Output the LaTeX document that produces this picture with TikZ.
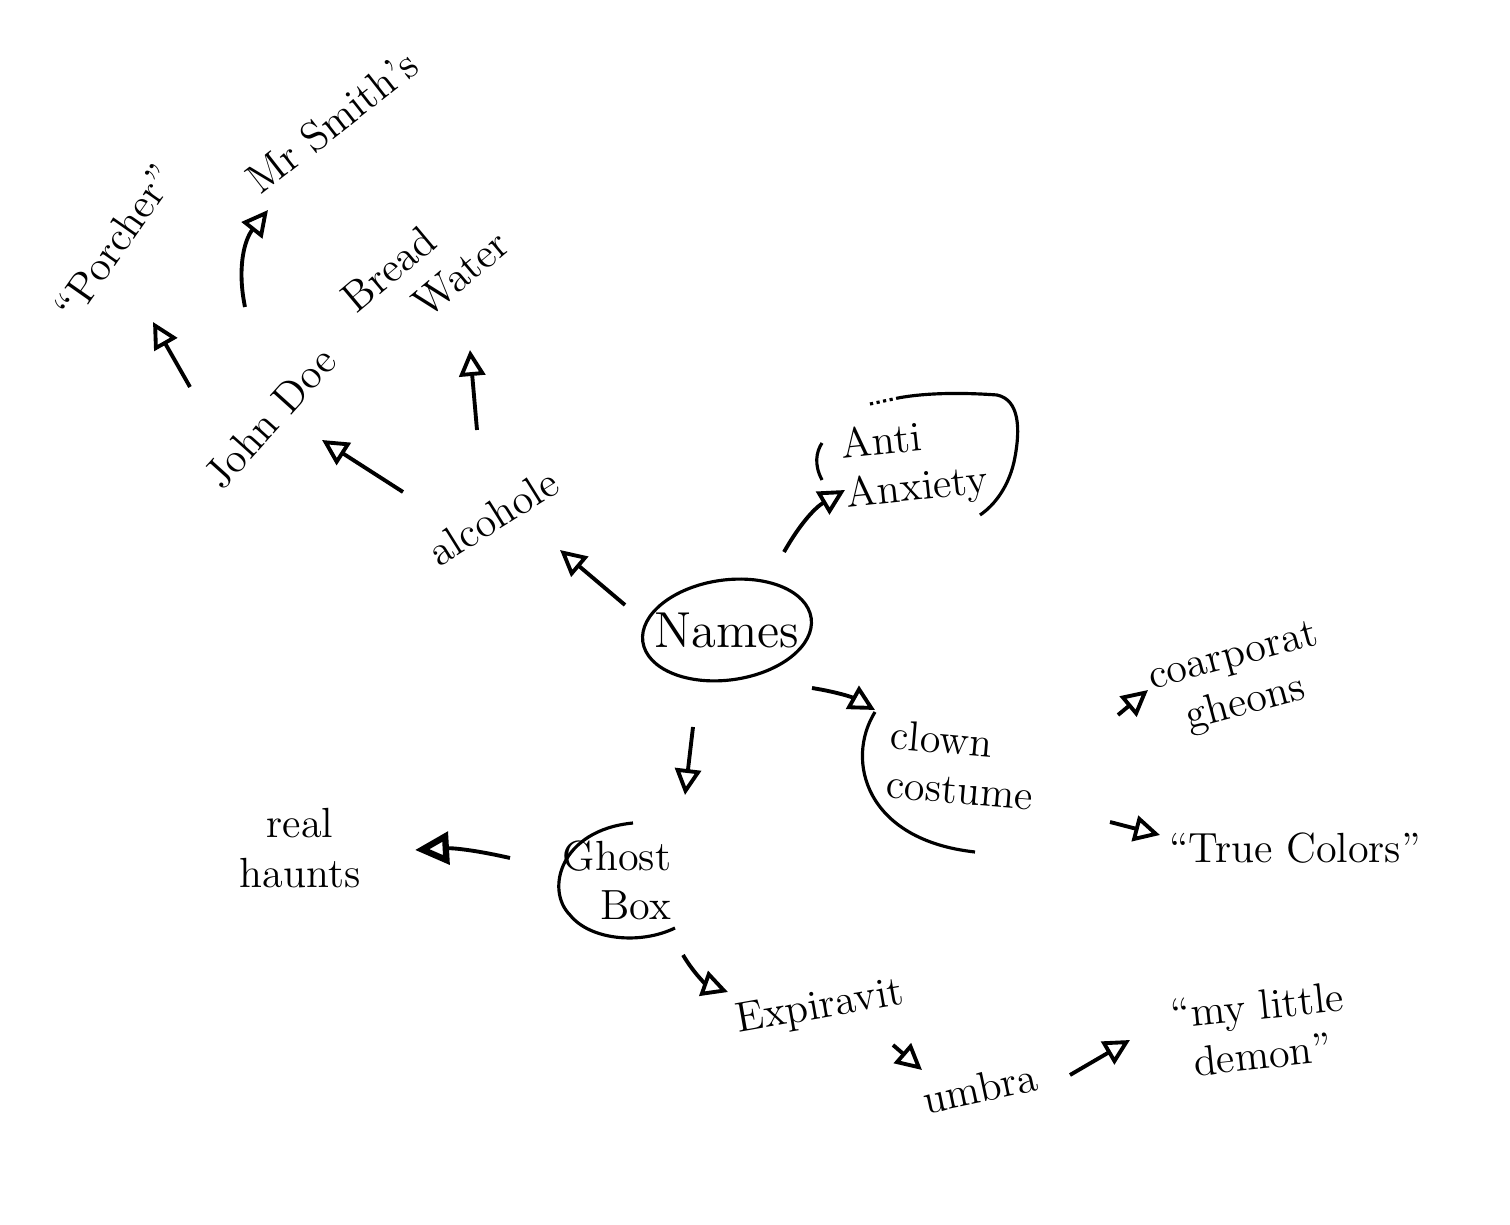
\documentclass[tikz,border=0pt]{standalone}
\usepackage{amssymb, amsmath}
\usetikzlibrary{arrows.meta}
\usetikzlibrary{shapes.geometric}

\begin{document}
\begin{tikzpicture}[line width = 1.1pt,
  idea/.style = {font = \large, inner sep = 2pt, align = center},
  link/.style = {-{Triangle[open,length = 2.6mm,width = 2.6mm]}},
  heavylink/.style = {-{Triangle[open,length = 3.4mm,width = 3.2mm,line width = 1.8pt]}},
  ring/.style = {line width = 0.9pt}]
\useasboundingbox (0,0) rectangle (15.1,-12.25);

% centre
\node[idea,font = \Large] (names) at (7.27,-6.30) {Names};
\draw[ring,rotate around = {8:(7.27,-6.30)}] (names.center) ellipse (0.85cm and 0.50cm);

% upper left branch
\node[idea,rotate = 32] (alc) at (4.93,-5.17) {alcohole};
\node[idea,rotate = 48] (john) at (2.70,-4.18) {John Doe};
\node[idea,rotate = 40,align = left] (bread) at (4.25,-2.71) {Bread\\\hspace*{1.2em}Water};
\node[idea,rotate = 55] (porcher) at (1.15,-2.42) {``Porcher''};
\node[idea,rotate = 38] (smith) at (3.32,-1.22) {Mr Smith's};

% right branch
\node[idea,rotate = 6,align = left] (anti) at (9.15,-4.65) {Anti\\Anxiety};
\node[idea,rotate = -5,align = left] (clown) at (9.62,-7.65) {clown\\costume};
\node[idea,rotate = 15] (corp) at (12.40,-6.82) {coarporat\\gheons};
\node[idea] (truec) at (12.95,-8.48) {``True Colors''};

% lower branch
\node[idea,align = right] (ghost) at (6.17,-8.80) {Ghost\\Box};
\node[idea] (haunts) at (3.00,-8.48) {real\\haunts};
\node[idea,rotate = 10] (expir) at (8.20,-10.08) {Expiravit};
\node[idea,rotate = 12] (umbra) at (9.80,-10.88) {umbra};
\node[idea,rotate = 6] (demon) at (12.60,-10.30) {``my little\\demon''};

% loops round the words
\draw[ring] (8.22,-4.80) .. controls (8.14,-4.65) and (8.16,-4.52) .. (8.22,-4.43);
\draw[ring,densely dotted] (8.70,-4.04) -- (8.98,-3.98);
\draw[ring] (8.98,-3.98) .. controls (9.30,-3.92) and (9.70,-3.93) .. (9.97,-3.95) .. controls (10.20,-4.00) and (10.20,-4.30) .. (10.15,-4.57) .. controls (10.10,-4.85) and (9.95,-5.05) .. (9.80,-5.15);
\draw[ring] (8.75,-7.12) .. controls (8.45,-7.60) and (8.65,-8.40) .. (9.75,-8.52);
\draw[ring] (6.33,-8.23) .. controls (5.60,-8.30) and (5.45,-8.90) .. (5.70,-9.15) .. controls (5.90,-9.40) and (6.40,-9.45) .. (6.75,-9.28);

% arrows
\draw[link] ([shift = {(-1.02,0.25)}]names.center) -- ([shift = {(0.67,-0.33)}]alc.center);
\draw[link] ([shift = {(-0.90,0.25)}]alc.center) -- ([shift = {(0.52,-0.22)}]john.center);
\draw[link] ([shift = {(-0.16,0.87)}]alc.center) -- ([shift = {(0.45,-0.79)}]bread.center);
\draw[link] ([shift = {(-0.80,0.31)}]john.center) -- ([shift = {(0.38,-0.80)}]porcher.center);
\draw[link] ([shift = {(-0.25,1.11)}]john.center) to[bend left = 25] ([shift = {(-0.64,-0.88)}]smith.center);
\draw[link] ([shift = {(0.57,0.78)}]names.center) to[bend left = 15] ([shift = {(-0.70,-0.25)}]anti.center);
\draw[link] ([shift = {(0.85,-0.58)}]names.center) to[bend left = 10] ([shift = {(-0.87,0.55)}]clown.center);
\draw[link] ([shift = {(1.56,0.50)}]clown.center) -- ([shift = {(-0.92,-0.08)}]corp.center);
\draw[link] ([shift = {(1.48,-0.57)}]clown.center) -- ([shift = {(-1.35,0.13)}]truec.center);
\draw[link] ([shift = {(-0.34,-0.97)}]names.center) -- ([shift = {(0.68,0.85)}]ghost.center);
\draw[heavylink] ([shift = {(-1.07,0.22)}]ghost.center) to[bend right = 8] ([shift = {(1.15,-0.02)}]haunts.center);
\draw[link] ([shift = {(0.66,-0.75)}]ghost.center) to[bend right = 20] ([shift = {(-0.92,0.16)}]expir.center);
\draw[link] ([shift = {(0.73,-0.37)}]expir.center) -- ([shift = {(-0.58,0.18)}]umbra.center);
\draw[link] ([shift = {(0.90,0.13)}]umbra.center) -- ([shift = {(-1.30,-0.10)}]demon.center);
\end{tikzpicture}
\end{document}
